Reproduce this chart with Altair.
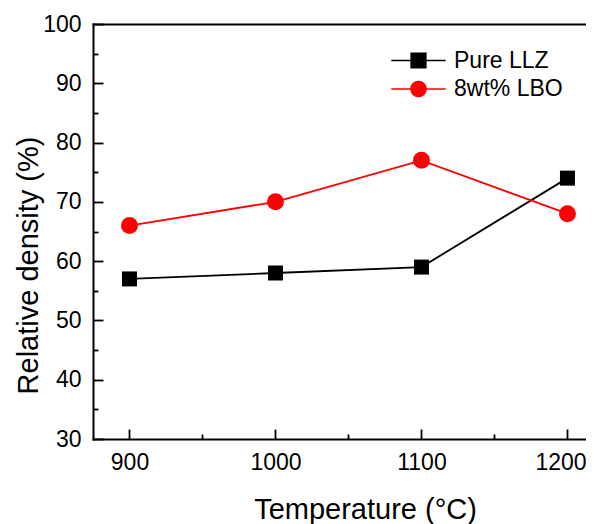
import altair as alt
import pandas as pd

# ---- data ----
temps = [900, 1000, 1100, 1200]
pure_llz = [57, 58, 59, 74]
lbo_8wt = [66, 70, 77, 68]
series_names = ["Pure LLZ", "8wt% LBO"]
series_colors = ["#000000", "#ff0000"]
point_shapes = ["square", "circle"]
point_sizes = [225, 289]
legend_shapes = [
    "M-3.4,0H3.4M-0.92,-0.92H0.92V0.92H-0.92Z",
    "M-3.4,0H3.4M0.95,0A0.95,0.95,0,1,1,-0.95,0A0.95,0.95,0,1,1,0.95,0Z",
]
x_major = [900, 1000, 1100, 1200]
x_minor = [950, 1050, 1150]
y_major = [30, 40, 50, 60, 70, 80, 90, 100]
y_minor = [35, 45, 55, 65, 75, 85, 95]
x_domain = [875, 1212.7]
y_domain = [30, 100]

df = pd.DataFrame({
    "temp": temps + temps,
    "value": pure_llz + lbo_8wt,
    "series": [series_names[0]] * len(temps) + [series_names[1]] * len(temps),
})

FONT = "Liberation Sans"

xscale = alt.Scale(domain=x_domain, nice=False, zero=False)
yscale = alt.Scale(domain=y_domain, nice=False, zero=False)


def tick_axis(orient, values, size):
    return alt.Axis(orient=orient, values=values, grid=False, domain=False,
                    labels=False, ticks=True, tickSize=size, tickWidth=1.8,
                    tickColor="black", offset=-size, title=None)


x_main = alt.Axis(orient="bottom", values=x_major, format="d", grid=False,
                  domain=True, domainColor="black", domainWidth=2,
                  domainCap="square", ticks=False,
                  labelFont=FONT, labelFontSize=23,
                  labelColor="black", labelPadding=12, labelFlush=False,
                  labelOffset={"condition": {"test": f"datum.value == {x_major[-1]}", "value": -7}, "value": 0},
                  title="Temperature (°C)", titleFont=FONT, titleFontSize=29,
                  titleFontWeight="normal", titleColor="black",
                  titleX=272, titleY=79, titleAlign="center",
                  titleBaseline="alphabetic")
y_main = alt.Axis(orient="left", values=y_major, format="d", grid=False,
                  domain=True, domainColor="black", domainWidth=2,
                  domainCap="square", ticks=False,
                  labelFont=FONT, labelFontSize=23,
                  labelColor="black", labelPadding=12, labelFlush=False,
                  title="Relative density (%)", titleFont=FONT,
                  titleFontSize=29, titleFontWeight="normal",
                  titleColor="black", titleAngle=270, titleX=-56, titleY=241,
                  titleAlign="center", titleBaseline="alphabetic")
x_top = alt.Axis(orient="top", grid=False, domain=True, domainColor="black",
                 domainWidth=2, domainCap="square", ticks=False, labels=False,
                 title=None)

color_scale = alt.Scale(domain=series_names, range=series_colors)

lines = alt.Chart(df).mark_line(strokeWidth=1.8).encode(
    x=alt.X("temp:Q", scale=xscale, axis=x_main),
    y=alt.Y("value:Q", scale=yscale, axis=y_main),
    color=alt.Color("series:N", scale=color_scale, legend=None),
)

points = alt.Chart(df).mark_point(filled=True, opacity=1).encode(
    x=alt.X("temp:Q", scale=xscale, axis=tick_axis("bottom", x_major, 10)),
    y=alt.Y("value:Q", scale=yscale, axis=tick_axis("left", y_major, 10)),
    color=alt.Color("series:N", scale=color_scale, legend=None),
    shape=alt.Shape("series:N", scale=alt.Scale(domain=series_names, range=point_shapes), legend=None),
    size=alt.Size("series:N", scale=alt.Scale(domain=series_names, range=point_sizes), legend=None),
)


def legend_entry(i, legend_y, x_axis, y_axis):
    leg = alt.Legend(orient="none", legendX=314, legendY=legend_y, title=None,
                     symbolSize=256, symbolStrokeWidth=1.5,
                     labelFont=FONT, labelFontSize=23, labelColor="black",
                     labelOffset=24, padding=0, symbolOpacity=1)
    return alt.Chart(df).transform_filter("datum.value < 0").mark_point(
        filled=True, opacity=1, fill=series_colors[i], stroke=series_colors[i],
        strokeWidth=1.5
    ).encode(
        x=alt.X("temp:Q", scale=xscale, axis=x_axis),
        y=alt.Y("value:Q", scale=yscale, axis=y_axis),
        shape=alt.Shape("series:N",
                        scale=alt.Scale(domain=[series_names[i]], range=[legend_shapes[i]]),
                        legend=leg),
    )


legend_a = legend_entry(0, 25, tick_axis("bottom", x_minor, 5), tick_axis("left", y_minor, 5))
legend_b = legend_entry(1, 53.5, None, None)

top_layer = alt.Chart(df).transform_filter("datum.value < 0").mark_point(
    opacity=0
).encode(
    x=alt.X("temp:Q", scale=xscale, axis=x_top),
    y=alt.Y("value:Q", scale=yscale, axis=None),
)

chart = alt.layer(lines, points, legend_a, legend_b, top_layer).resolve_scale(
    shape="independent"
).resolve_legend(
    shape="independent"
).resolve_axis(
    x="independent", y="independent"
).properties(
    width=493, height=415,
    autosize=alt.AutoSizeParams(type="none"),
    padding={"left": 85, "top": 16, "right": 0, "bottom": 85},
    background="white",
).configure_view(stroke=None)

chart.save("out.html", embed_options={"renderer": "svg", "actions": False})
